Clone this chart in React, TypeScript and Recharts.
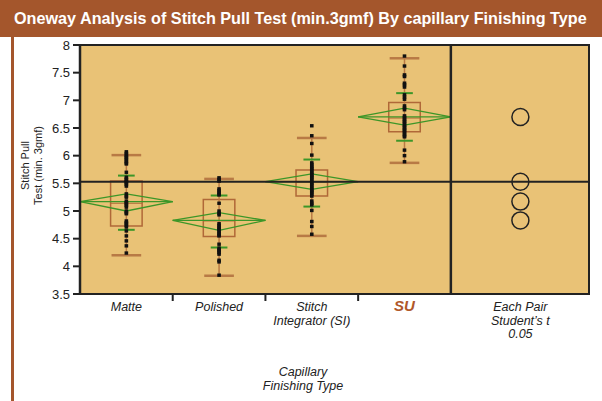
import { ComposedChart, XAxis, YAxis, Scatter, ReferenceLine, ReferenceArea } from "recharts";

const groupLines = [["Matte"], ["Polished"], ["Stitch", "Integrator (SI)"], ["SU"]];
const compareLines = ["Each Pair", "Student\u2019s t", "0.05"];
const yTicks = [3.5, 4, 4.5, 5, 5.5, 6, 6.5, 7, 7.5, 8];

const means = [5.17, 4.83, 5.53, 6.7];
const diamondTop = [5.31, 4.97, 5.67, 6.86];
const diamondBottom = [5.0, 4.65, 5.39, 6.55];
const boxHigh = [5.54, 5.21, 5.74, 6.96];
const boxLow = [4.73, 4.54, 5.27, 6.43];
const medians = [5.14, 4.82, 5.52, 6.68];
const whiskerHigh = [6.01, 5.58, 6.32, 7.76];
const whiskerLow = [4.2, 3.83, 4.55, 5.87];
const sdHigh = [5.64, 5.28, 5.93, 7.13];
const sdLow = [4.66, 4.34, 5.08, 6.27];
const grandMean = 5.53;

const matte = [6.07, 6.04, 6.01, 5.98, 5.96, 5.93, 5.9, 5.87, 5.85, 5.7, 5.61, 5.58, 5.56, 5.53, 5.51, 5.48, 5.45, 5.31, 5.27, 5.25, 5.18, 5.15, 5.13, 5.1, 5.07, 5.0, 4.97, 4.95, 4.82, 4.79, 4.77, 4.74, 4.71, 4.64, 4.55, 4.46, 4.37, 4.24];
const polished = [5.6, 5.57, 5.54, 5.4, 5.37, 5.34, 5.31, 5.29, 5.14, 5.0, 4.96, 4.93, 4.77, 4.74, 4.71, 4.68, 4.66, 4.63, 4.6, 4.57, 4.55, 4.4, 4.33, 4.3, 4.28, 4.25, 4.22, 4.11, 4.08, 3.84];
const stitch = [6.54, 6.36, 6.22, 6.01, 5.87, 5.84, 5.81, 5.78, 5.76, 5.73, 5.7, 5.67, 5.65, 5.62, 5.6, 5.57, 5.54, 5.51, 5.49, 5.46, 5.43, 5.4, 5.38, 5.35, 5.33, 5.3, 5.27, 5.18, 5.14, 5.11, 5.01, 4.81, 4.72, 4.58];
const su = [7.8, 7.62, 7.46, 7.43, 7.31, 7.28, 7.24, 7.1, 7.06, 7.02, 6.9, 6.86, 6.83, 6.72, 6.69, 6.66, 6.63, 6.61, 6.58, 6.55, 6.52, 6.5, 6.47, 6.45, 6.42, 6.39, 6.36, 6.34, 6.1, 6.0, 5.89];
const groupValues = [matte, polished, stitch, su];

const X_MAX = 5.49;
const COMPARE_X = 4.75;
const FONT = "'Liberation Sans', Arial, sans-serif";
const BROWN = "#B06838";
const CAP = "#B87A45";
const GREEN = "#3C9628";

const pointData = groupValues.flatMap((vals, i) => vals.map((y) => ({ x: i + 0.5, y })));
const circleData = means.map((y) => ({ x: COMPARE_X, y }));
const xTicks = [0.5, 1, 1.5, 2, 2.5, 3, 3.5, COMPARE_X];

const seg = (x1: number, y1: number, x2: number, y2: number) => [
  { x: x1, y: y1 },
  { x: x2, y: y2 },
];

function XTick(props: any) {
  const { x, y, payload } = props;
  const v = payload.value;
  if (Number.isInteger(v)) {
    return <line x1={x} x2={x} y1={y - 8} y2={y - 1} stroke="#222" strokeWidth={2} />;
  }
  if (v === COMPARE_X) {
    return (
      <text x={x} y={y + 9} textAnchor="middle" fontFamily={FONT} fontSize={12.5} fontStyle="italic" fill="#222">
        {compareLines.map((t, k) => (
          <tspan key={k} x={x} dy={k === 0 ? 0 : 13.5}>{t}</tspan>
        ))}
      </text>
    );
  }
  const idx = Math.floor(v);
  const lines = groupLines[idx];
  const isSU = idx === 3;
  return (
    <text
      x={x}
      y={y + 9}
      textAnchor="middle"
      fontFamily={FONT}
      fontSize={isSU ? 15 : 12.5}
      fontStyle="italic"
      fontWeight={isSU ? "bold" : "normal"}
      fill={isSU ? "#B0582A" : "#222"}
    >
      {lines.map((t, k) => (
        <tspan key={k} x={x} dy={k === 0 ? 0 : 13.5}>{t}</tspan>
      ))}
    </text>
  );
}

export default function App() {
  return (
    <div style={{ position: "absolute", left: 0, top: 0, width: 602, height: 401, background: "#fff", overflow: "hidden" }}>
      <div
        style={{
          height: 37,
          background: "#A4562C",
          color: "#fff",
          fontFamily: FONT,
          fontWeight: "bold",
          fontSize: 16.2,
          lineHeight: "37px",
          paddingLeft: 14,
          whiteSpace: "nowrap",
        }}
      >
        Oneway Analysis of Stitch Pull Test (min.3gmf) By capillary Finishing Type
      </div>
      <div style={{ position: "absolute", left: 11, top: 37, width: 2.5, height: 364, background: "#A4562C" }} />
      <div style={{ position: "absolute", left: 0, top: 37 }}>
        <ComposedChart width={602} height={364} margin={{ top: 8, right: 13, bottom: 47, left: 30 }}>
          <XAxis
            dataKey="x"
            type="number"
            domain={[0, X_MAX]}
            ticks={xTicks}
            interval={0}
            tickLine={false}
            axisLine={{ stroke: "#222", strokeWidth: 2 }}
            tick={<XTick />}
            height={60}
            allowDataOverflow
            label={{
              content: (p: any) => {
                const vb = p.viewBox;
                const cx = vb.x + 223;
                return (
                  <text x={cx} y={vb.y + 82} textAnchor="middle" fontFamily={FONT} fontSize={12.5} fontStyle="italic" fill="#222">
                    <tspan x={cx} dy={0}>Capillary</tspan>
                    <tspan x={cx} dy={13.5}>Finishing Type</tspan>
                  </text>
                );
              },
            }}
          />
          <YAxis
            dataKey="y"
            type="number"
            domain={[3.5, 8]}
            ticks={yTicks}
            interval={0}
            width={50}
            tickSize={7}
            tickMargin={3}
            tickLine={{ stroke: "#222", strokeWidth: 2 }}
            axisLine={{ stroke: "#222", strokeWidth: 2.5 }}
            tick={{ fill: "#222", fontSize: 13, fontFamily: FONT }}
            allowDataOverflow
            label={{
              content: (p: any) => {
                const vb = p.viewBox;
                const cy = vb.y + vb.height / 2 - 4;
                const x1 = vb.x - 1;
                const x2 = vb.x + 12;
                return (
                  <g fontFamily={FONT} fontSize={11} fill="#222" textAnchor="middle">
                    <text x={x1} y={cy} transform={`rotate(-90 ${x1} ${cy})`}>Stitch Pull</text>
                    <text x={x2} y={cy} transform={`rotate(-90 ${x2} ${cy})`}>Test (min. 3gmf)</text>
                  </g>
                );
              },
            }}
          />
          <ReferenceArea x1={0} x2={X_MAX} y1={3.5} y2={8} fill="#E9C276" fillOpacity={1} stroke="#222" strokeWidth={2} zIndex={-50} />
          {means.map((m, i) => (
            <ReferenceArea key={"box" + i} x1={i + 0.33} x2={i + 0.67} y1={boxLow[i]} y2={boxHigh[i]} fill="none" stroke={BROWN} strokeWidth={1.5} />
          ))}
          {means.map((m, i) => (
            <ReferenceLine key={"med" + i} segment={seg(i + 0.33, medians[i], i + 0.67, medians[i])} stroke={BROWN} strokeWidth={1} />
          ))}
          {means.map((m, i) => (
            <ReferenceLine key={"wv" + i} segment={seg(i + 0.5, whiskerLow[i], i + 0.5, whiskerHigh[i])} stroke={CAP} strokeWidth={1.5} />
          ))}
          {means.map((m, i) => (
            <ReferenceLine key={"wh" + i} segment={seg(i + 0.34, whiskerHigh[i], i + 0.66, whiskerHigh[i])} stroke={CAP} strokeWidth={2.5} />
          ))}
          {means.map((m, i) => (
            <ReferenceLine key={"wl" + i} segment={seg(i + 0.34, whiskerLow[i], i + 0.66, whiskerLow[i])} stroke={CAP} strokeWidth={2.5} />
          ))}
          {means.map((m, i) => (
            <ReferenceLine key={"sh" + i} segment={seg(i + 0.41, sdHigh[i], i + 0.59, sdHigh[i])} stroke={GREEN} strokeWidth={2} />
          ))}
          {means.map((m, i) => (
            <ReferenceLine key={"sl" + i} segment={seg(i + 0.41, sdLow[i], i + 0.59, sdLow[i])} stroke={GREEN} strokeWidth={2} />
          ))}
          {means.map((m, i) => (
            <ReferenceLine key={"d1" + i} segment={seg(i, m, i + 0.5, diamondTop[i])} stroke={GREEN} strokeWidth={1.3} />
          ))}
          {means.map((m, i) => (
            <ReferenceLine key={"d2" + i} segment={seg(i + 0.5, diamondTop[i], i + 1, m)} stroke={GREEN} strokeWidth={1.3} />
          ))}
          {means.map((m, i) => (
            <ReferenceLine key={"d3" + i} segment={seg(i + 1, m, i + 0.5, diamondBottom[i])} stroke={GREEN} strokeWidth={1.3} />
          ))}
          {means.map((m, i) => (
            <ReferenceLine key={"d4" + i} segment={seg(i + 0.5, diamondBottom[i], i, m)} stroke={GREEN} strokeWidth={1.3} />
          ))}
          {means.map((m, i) => (
            <ReferenceLine key={"dm" + i} segment={seg(i, m, i + 1, m)} stroke={GREEN} strokeWidth={1.3} />
          ))}
          <ReferenceLine y={grandMean} stroke="#222" strokeWidth={2} />
          <ReferenceLine x={4} stroke="#222" strokeWidth={2.5} />
          <Scatter
            data={pointData}
            isAnimationActive={false}
            shape={(p: any) => <rect x={p.cx - 1.8} y={p.cy - 1.7} width={3.6} height={3.4} fill="#111" />}
          />
          <Scatter
            data={circleData}
            isAnimationActive={false}
            shape={(p: any) => <circle cx={p.cx} cy={p.cy} r={8.5} fill="none" stroke="#222" strokeWidth={1.5} />}
          />
        </ComposedChart>
      </div>
    </div>
  );
}
